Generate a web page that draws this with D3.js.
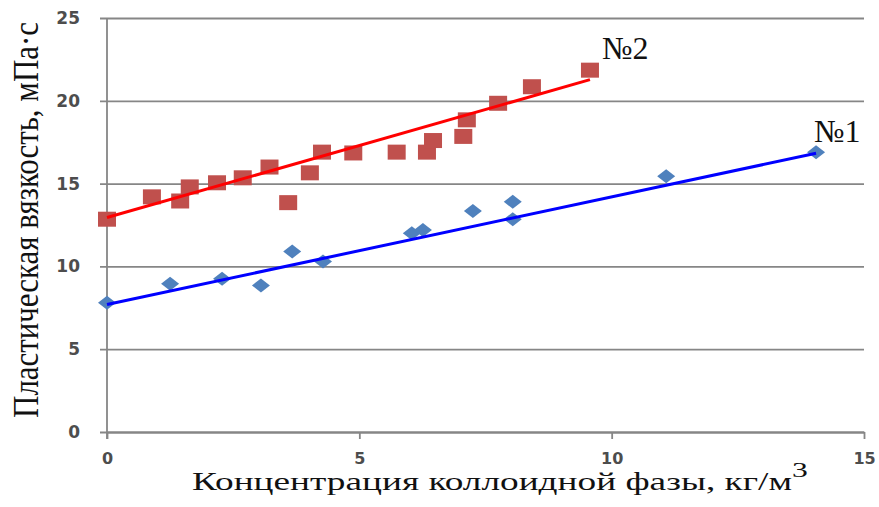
<!DOCTYPE html>
<html>
<head>
<meta charset="utf-8">
<script src="https://cdn.jsdelivr.net/npm/d3@7/dist/d3.min.js"></script>
<style>
  html, body { margin: 0; padding: 0; background: #fff; }
  svg { display: block; }
</style>
</head>
<body>
<svg id="chart" width="879" height="507"></svg>
<script>
// Sample №1 (blue diamonds): concentration of colloid phase, kg/m3 -> plastic viscosity, mPa·s
const s1X = [0, 1.25, 2.28, 3.05, 3.67, 4.28, 6.04, 6.26, 7.25, 8.04, 8.04, 11.08, 14.05];
const s1Y = [7.8, 8.95, 9.25, 8.85, 10.9, 10.3, 12.0, 12.2, 13.35, 13.9, 12.85, 15.45, 16.9];

// Sample №2 (red squares)
const s2X = [0, 0.89, 1.45, 1.64, 2.18, 2.69, 3.22, 3.59, 4.02, 4.26, 4.88, 5.74, 6.34, 6.46, 7.06, 7.13, 7.75, 8.42, 9.57];
const s2Y = [12.85, 14.2, 13.95, 14.8, 15.05, 15.35, 16.0, 13.85, 15.65, 16.9, 16.85, 16.9, 16.9, 17.6, 17.85, 18.85, 19.85, 20.85, 21.85];

// Linear trend lines: intercept, slope, last x
const trendIntercept = [7.7, 12.95];
const trendSlope = [0.65, 0.87];
const trendEnd = [14.05, 9.57];

const seriesNames = ["№1", "№2"];
const xTicks = [0, 5, 10, 15];
const yTicks = [0, 5, 10, 15, 20, 25];

const svg = d3.select("#chart");

const x = d3.scaleLinear().domain([0, 15]).range([107, 864]);
const y = d3.scaleLinear().domain([0, 25]).range([432, 18]);

const gridColor = "#868686";
const tickFont = "'DejaVu Sans', Verdana, sans-serif";
const serif = "'Liberation Serif', 'DejaVu Serif', 'Times New Roman', serif";

// Horizontal gridlines + y tick labels
const yAxis = svg.append("g")
  .attr("transform", "translate(100,0)")
  .call(d3.axisLeft(y).tickValues(yTicks).tickSize(-764).tickPadding(20).tickFormat(d3.format("d")));
yAxis.select(".domain").remove();
yAxis.selectAll(".tick line").attr("stroke", gridColor).attr("stroke-width", 1.8);
yAxis.selectAll(".tick text")
  .attr("font-family", tickFont).attr("font-weight", "bold")
  .attr("font-size", 17).attr("fill", "#4d4d4d");

// Vertical axis line
svg.append("line")
  .attr("x1", x(0)).attr("x2", x(0))
  .attr("y1", y(25)).attr("y2", y(0) + 7)
  .attr("stroke", gridColor).attr("stroke-width", 1.8);

// Bottom axis
const xAxis = svg.append("g")
  .attr("transform", `translate(0,${y(0)})`)
  .call(d3.axisBottom(x).tickValues(xTicks).tickSize(7).tickSizeOuter(0).tickPadding(14).tickFormat(d3.format("d")));
xAxis.select(".domain").attr("stroke", gridColor).attr("stroke-width", 1.8);
xAxis.selectAll(".tick line").attr("stroke", gridColor).attr("stroke-width", 1.8);
xAxis.selectAll(".tick text")
  .attr("font-family", tickFont).attr("font-weight", "bold")
  .attr("font-size", 16).attr("fill", "#4d4d4d");

// Markers
const s1 = s1X.map((v, i) => ({ x: v, y: s1Y[i] }));
const s2 = s2X.map((v, i) => ({ x: v, y: s2Y[i] }));

svg.append("g").selectAll("rect").data(s2).join("rect")
  .attr("x", d => x(d.x) - 9).attr("y", d => y(d.y) - 7.5)
  .attr("width", 18).attr("height", 15)
  .attr("fill", "#c0504d");

svg.append("g").selectAll("path").data(s1).join("path")
  .attr("d", d => {
    const cx = x(d.x), cy = y(d.y);
    return `M${cx - 9},${cy}L${cx},${cy - 7}L${cx + 9},${cy}L${cx},${cy + 7}Z`;
  })
  .attr("fill", "#4f81bd");

// Trend lines
const trendColors = ["#0000ff", "#ff0000"];
trendIntercept.forEach((b, i) => {
  const pts = [0, trendEnd[i]].map(v => [x(v), y(b + trendSlope[i] * v)]);
  svg.append("path")
    .attr("d", d3.line()(pts))
    .attr("stroke", trendColors[i]).attr("stroke-width", 3)
    .attr("fill", "none");
});

// Series labels
svg.append("text")
  .attr("x", 602).attr("y", 59)
  .attr("font-family", serif).attr("font-size", 32).attr("fill", "#111")
  .text(seriesNames[1]);
svg.append("text")
  .attr("x", 814).attr("y", 142)
  .attr("font-family", serif).attr("font-size", 32).attr("fill", "#111")
  .text(seriesNames[0]);

// Axis titles (horizontally stretched serif text)
const xt = svg.append("text")
  .attr("font-family", serif).attr("font-size", 26).attr("fill", "#111");
xt.append("tspan").text("Концентрация коллоидной фазы, кг/м");
xt.append("tspan").attr("font-size", 22).attr("dy", -13).text("3");
const xtw = xt.node().getComputedTextLength();
xt.attr("transform", `translate(192,490) scale(${616 / xtw},1)`);

const yt = svg.append("text")
  .attr("font-family", serif).attr("font-size", 24).attr("fill", "#111")
  .attr("text-anchor", "middle")
  .text("Пластическая вязкость, мПа·с");
const ytw = yt.node().getComputedTextLength();
yt.attr("transform", `translate(38,220) scale(1.45,${396 / ytw}) rotate(-90)`);
</script>
</body>
</html>
